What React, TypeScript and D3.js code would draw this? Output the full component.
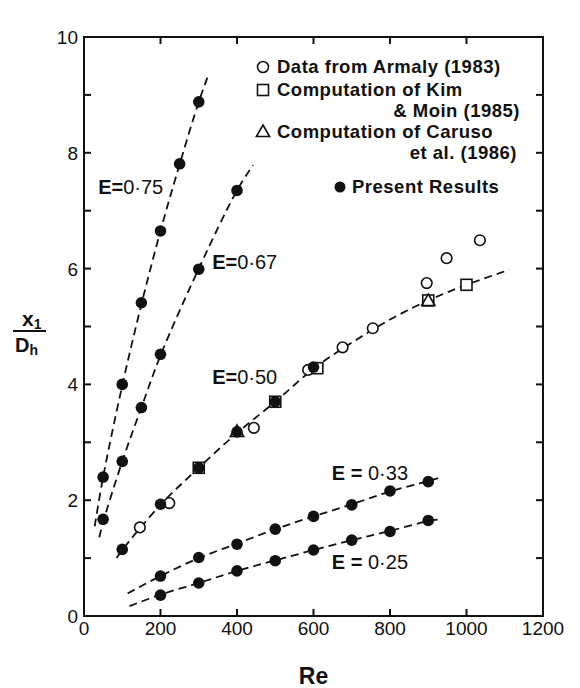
import React from 'react';
import * as d3 from 'd3';

// ---- data (Re, x1/Dh) ----
const reTicks = [0, 200, 400, 600, 800, 1000, 1200];
const yTicks = [0, 2, 4, 6, 8, 10];
const yAllTicks = [0, 1, 2, 3, 4, 5, 6, 7, 8, 9, 10];
const reInnerTicks = [200, 400, 600, 800, 1000];

// Present results (filled circles)
const e75Re = [50, 100, 150, 200, 250, 300];
const e75Val = [2.4, 4.0, 5.41, 6.65, 7.81, 8.88];
const e67Re = [50, 100, 150, 200, 300, 400];
const e67Val = [1.67, 2.67, 3.6, 4.52, 5.99, 7.35];
const e50Re = [100, 200, 300, 400, 500, 600];
const e50Val = [1.15, 1.93, 2.56, 3.18, 3.7, 4.3];
const e33Re = [200, 300, 400, 500, 600, 700, 800, 900];
const e33Val = [0.69, 1.01, 1.24, 1.5, 1.72, 1.92, 2.16, 2.32];
const e25Re = [200, 300, 400, 500, 600, 700, 800, 900];
const e25Val = [0.36, 0.57, 0.78, 0.955, 1.14, 1.31, 1.46, 1.65];

// Armaly (1983) open circles
const armalyRe = [146, 223, 444, 586, 676, 755, 896, 948, 1035];
const armalyVal = [1.53, 1.95, 3.25, 4.25, 4.64, 4.97, 5.75, 6.18, 6.49];
// Kim & Moin (1985) open squares
const kimRe = [300, 500, 610, 900, 1000];
const kimVal = [2.56, 3.7, 4.28, 5.45, 5.72];
// Caruso et al. (1986) open triangles
const carusoRe = [400, 900];
const carusoVal = [3.18, 5.44];

// Dashed curves
const fit75Re = [28, 50, 100, 150, 200, 250, 300, 326];
const fit75Val = [1.55, 2.4, 3.98, 5.38, 6.65, 7.8, 8.88, 9.36];
const fit67Re = [40, 50, 100, 150, 200, 300, 400, 442];
const fit67Val = [1.36, 1.62, 2.67, 3.6, 4.5, 6.0, 7.35, 7.79];
const fit50Re = [85, 100, 200, 300, 400, 500, 600, 700, 800, 900, 1000, 1112];
const fit50Val = [1.0, 1.14, 1.92, 2.56, 3.16, 3.7, 4.27, 4.72, 5.12, 5.45, 5.72, 5.98];
const fit33Re = [114, 200, 300, 400, 500, 600, 700, 800, 900, 926];
const fit33Val = [0.39, 0.69, 1.0, 1.25, 1.5, 1.72, 1.93, 2.15, 2.33, 2.38];
const fit25Re = [119, 200, 300, 400, 500, 600, 700, 800, 900, 931];
const fit25Val = [0.17, 0.37, 0.57, 0.78, 0.96, 1.14, 1.31, 1.47, 1.64, 1.67];

const curveLabels = ['E=0·75', 'E=0·67', 'E=0·50', 'E = 0·33', 'E = 0·25'];
const curveLabelRe = [37, 335, 335, 648, 648];
const curveLabelVal = [7.41, 6.11, 4.13, 2.47, 0.93];

const W = 580;
const H = 688;
const x = d3.scaleLinear().domain([0, 1200]).range([84, 543]);
const y = d3.scaleLinear().domain([0, 10]).range([616, 37]);

const zip = (a: number[], b: number[]) => a.map((v, i) => [v, b[i]] as [number, number]);

const line = d3
  .line<[number, number]>()
  .x((d) => x(d[0]))
  .y((d) => y(d[1]))
  .curve(d3.curveCatmullRom.alpha(0.5));

const FONT = '"Liberation Sans", Arial, Helvetica, sans-serif';

export default function App() {
  const present = [
    ...zip(e75Re, e75Val),
    ...zip(e67Re, e67Val),
    ...zip(e50Re, e50Val),
    ...zip(e33Re, e33Val),
    ...zip(e25Re, e25Val),
  ];
  const fits = [
    zip(fit75Re, fit75Val),
    zip(fit67Re, fit67Val),
    zip(fit50Re, fit50Val),
    zip(fit33Re, fit33Val),
    zip(fit25Re, fit25Val),
  ];
  const tri = (cx: number, cy: number, s: number) =>
    `M${cx},${cy - s}L${cx + s * 0.95},${cy + s * 0.65}L${cx - s * 0.95},${cy + s * 0.65}Z`;

  const x0 = x(0), x1 = x(1200), y0 = y(0), y1 = y(10);
  const tl = 7;

  return (
    <svg
      width={W}
      height={H}
      style={{ position: 'absolute', left: 0, top: 0, background: '#fff' }}
      fontFamily={FONT}
    >
      <rect x={0} y={0} width={W} height={H} fill="#fff" />
      {/* dashed curves */}
      {fits.map((f, i) => (
        <path
          key={'f' + i}
          d={line(f) || ''}
          fill="none"
          stroke="#111"
          strokeWidth={1.8}
          strokeDasharray="8,5"
        />
      ))}
      {/* frame */}
      <path
        d={`M${x0},${y1}L${x1},${y1}L${x1},${y0}L${x0},${y0}Z`}
        fill="none"
        stroke="#111"
        strokeWidth={2}
      />
      {yAllTicks.map((t) => (
        <g key={'yt' + t}>
          <line x1={x0} x2={x0 + tl} y1={y(t)} y2={y(t)} stroke="#111" strokeWidth={2} />
          <line x1={x1 - tl} x2={x1} y1={y(t)} y2={y(t)} stroke="#111" strokeWidth={2} />
        </g>
      ))}
      {reInnerTicks.map((t) => (
        <g key={'xt' + t}>
          <line x1={x(t)} x2={x(t)} y1={y0} y2={y0 - tl} stroke="#111" strokeWidth={2} />
          <line x1={x(t)} x2={x(t)} y1={y1} y2={y1 + tl} stroke="#111" strokeWidth={2} />
        </g>
      ))}
      {reTicks.map((t) => (
        <text key={'xl' + t} x={x(t)} y={y0 + 19} textAnchor="middle" fontSize={19} fill="#111">
          {t}
        </text>
      ))}
      {yTicks.map((t) => (
        <text key={'yl' + t} x={x0 - 6} y={y(t) + 7} textAnchor="end" fontSize={19} fill="#111">
          {t}
        </text>
      ))}
      {/* axis titles */}
      <text x={(x0 + x1) / 2} y={684} textAnchor="middle" fontSize={23} fontWeight="bold" fill="#111">
        Re
      </text>
      <text x={22} y={326} fontSize={21} fontWeight="bold" fill="#111">
        x<tspan fontSize={14} dy={3}>1</tspan>
      </text>
      <line x1={13} x2={46} y1={331} y2={331} stroke="#111" strokeWidth={2} />
      <text x={15} y={352} fontSize={20} fontWeight="bold" fill="#111">
        D<tspan fontSize={14} dy={3}>h</tspan>
      </text>

      {/* Armaly */}
      {zip(armalyRe, armalyVal).map((d, i) => (
        <circle key={'a' + i} cx={x(d[0])} cy={y(d[1])} r={5.3} fill="#fff" stroke="#111" strokeWidth={1.6} />
      ))}
      {/* Kim & Moin */}
      {zip(kimRe, kimVal).map((d, i) => (
        <rect key={'k' + i} x={x(d[0]) - 5.5} y={y(d[1]) - 5.5} width={11} height={11} fill="#fff" stroke="#111" strokeWidth={1.6} />
      ))}
      {/* Caruso */}
      {zip(carusoRe, carusoVal).map((d, i) => (
        <path key={'c' + i} d={tri(x(d[0]), y(d[1]), 7)} fill="none" stroke="#111" strokeWidth={1.6} />
      ))}
      {/* Present results */}
      {present.map((d, i) => (
        <circle key={'p' + i} cx={x(d[0])} cy={y(d[1])} r={5.8} fill="#111" />
      ))}

      {/* curve labels */}
      {curveLabels.map((s, i) => {
        const parts = s.split('0');
        return (
          <text key={'cl' + i} x={x(curveLabelRe[i])} y={y(curveLabelVal[i]) + 7} fontSize={20} fill="#111">
            <tspan fontWeight="bold">{parts[0]}</tspan>
            <tspan>{'0' + parts.slice(1).join('0')}</tspan>
          </text>
        );
      })}

      {/* legend */}
      <g fontSize={18.5} fontWeight="bold" fill="#111" letterSpacing={0.5}>
        <circle cx={263} cy={67} r={5.5} fill="#fff" stroke="#111" strokeWidth={1.6} />
        <text x={277} y={73}>Data from Armaly (1983)</text>
        <rect x={257.5} y={84.5} width={11} height={11} fill="#fff" stroke="#111" strokeWidth={1.6} />
        <text x={277} y={96}>Computation of Kim</text>
        <text x={520} y={117} textAnchor="end">&amp; Moin (1985)</text>
        <path d={tri(263, 132, 7)} fill="none" stroke="#111" strokeWidth={1.6} />
        <text x={277} y={138}>Computation of Caruso</text>
        <text x={517} y={159} textAnchor="end">et al. (1986)</text>
        <circle cx={340} cy={187} r={5.5} fill="#111" />
        <text x={352} y={193}>Present Results</text>
      </g>
    </svg>
  );
}
